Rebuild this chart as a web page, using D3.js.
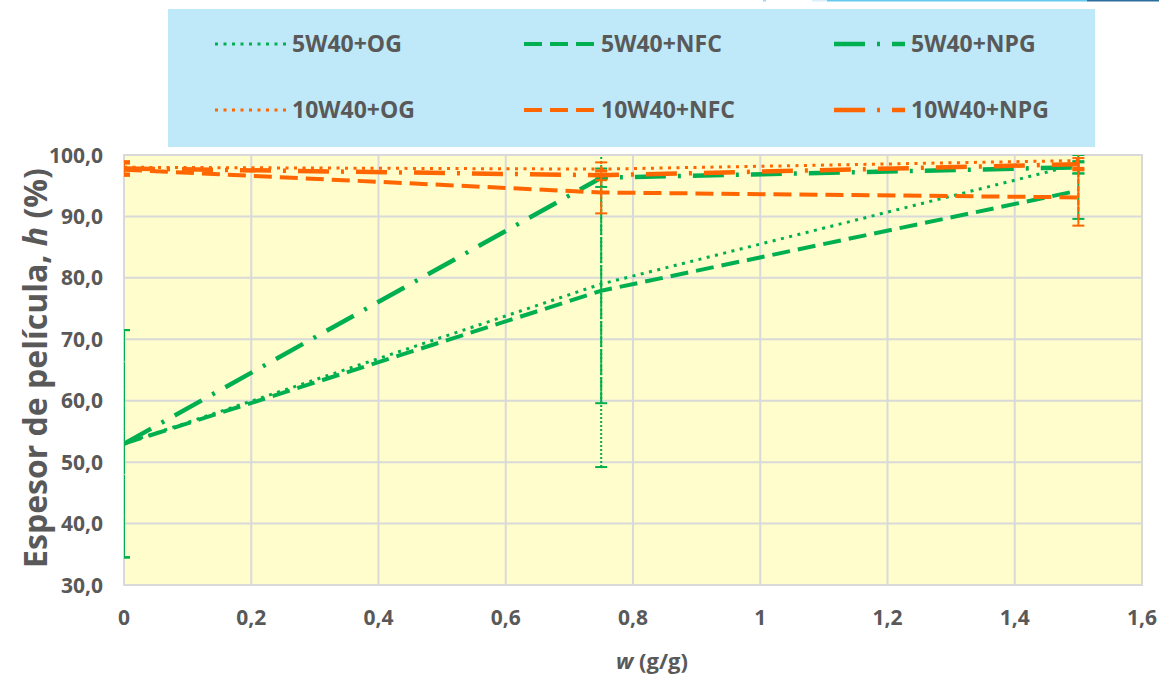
<!DOCTYPE html>
<html>
<head>
<meta charset="utf-8">
<script src="https://cdn.jsdelivr.net/npm/d3@7"></script>
<style>
  html, body { margin: 0; padding: 0; background: #ffffff; }
  svg { display: block; }
  text { font-family: "Open Sans", Lato, sans-serif; font-weight: bold; fill: #595959; }
</style>
</head>
<body>
<svg id="chart" width="1159" height="674"></svg>
<script>
// ---------- DATA ----------
const xValues = [0, 0.75, 1.5];
const seriesNames = ["5W40+OG", "5W40+NFC", "5W40+NPG", "10W40+OG", "10W40+NFC", "10W40+NPG"];
const og5  = [53.0, 79.0, 98.5];
const nfc5 = [53.0, 77.9, 94.2];
const npg5 = [53.0, 96.3, 98.0];
const og10  = [98.0, 97.7, 99.1];
const nfc10 = [97.6, 93.9, 93.1];
const npg10 = [97.8, 96.7, 98.5];
const og5Err  = [18.5, 29.8, 1.5];
const nfc5Err = [18.5, 18.3, 4.6];
const npg5Err = [18.5, 1.5, 1.0];
const og10Err  = [1.0, 1.1, 1.2];
const nfc10Err = [1.0, 3.4, 4.6];
const npg10Err = [1.0, 0.8, 1.0];
const yTicks = [30, 40, 50, 60, 70, 80, 90, 100];
const xTicks = [0, 0.2, 0.4, 0.6, 0.8, 1, 1.2, 1.4, 1.6];
const yTitle = "Espesor de película, ";
const xTitle = " (g/g)";

// ---------- STYLE ----------
const GREEN = "#00B050", ORANGE = "#FF6600";
const styles = {
  dot:  { dash: "3,5.5", width: 3, err: "2,2" },
  dash: { dash: "18,8", width: 4, err: "12,2" },
  dd:   { dash: "31,12,3,12", width: 4.5, err: "14,3,2,3" }
};
const seriesDefs = [
  { name: seriesNames[0], vals: og5,  err: og5Err,  color: GREEN,  st: "dot" },
  { name: seriesNames[1], vals: nfc5, err: nfc5Err, color: GREEN,  st: "dash" },
  { name: seriesNames[2], vals: npg5, err: npg5Err, color: GREEN,  st: "dd" },
  { name: seriesNames[3], vals: og10, err: og10Err, color: ORANGE, st: "dot" },
  { name: seriesNames[4], vals: nfc10, err: nfc10Err, color: ORANGE, st: "dash" },
  { name: seriesNames[5], vals: npg10, err: npg10Err, color: ORANGE, st: "dd" }
];

const svg = d3.select("#chart");
const P = { left: 124, right: 1142, top: 155, bottom: 585 };
const x = d3.scaleLinear().domain([0, 1.6]).range([P.left, P.right]);
const y = d3.scaleLinear().domain([30, 100]).range([P.bottom, P.top]);

// top-right artifact line
svg.append("rect").attr("x", 763).attr("y", 0).attr("width", 3).attr("height", 1.5).attr("fill", "#9ED9F2");
svg.append("rect").attr("x", 812).attr("y", 0).attr("width", 15).attr("height", 1.5).attr("fill", "#DDF0FA");
svg.append("rect").attr("x", 827).attr("y", 0).attr("width", 260).attr("height", 1.5).attr("fill", "#66CBEE");
svg.append("rect").attr("x", 1087).attr("y", 0).attr("width", 72).attr("height", 1.5).attr("fill", "#2E6E9E");

// legend box
svg.append("rect").attr("x", 168).attr("y", 9).attr("width", 927).attr("height", 138).attr("fill", "#BFE9F8");

// plot area
svg.append("rect").attr("x", P.left).attr("y", P.top)
  .attr("width", P.right - P.left).attr("height", P.bottom - P.top)
  .attr("fill", "#FFFDCC");

// gridlines
const grid = svg.append("g");
grid.selectAll(".gx").data(xTicks).join("line")
  .attr("x1", d => x(d)).attr("x2", d => x(d)).attr("y1", P.top).attr("y2", P.bottom)
  .attr("stroke", "#D9D9D9").attr("stroke-width", 2);
grid.selectAll(".gy").data(yTicks).join("line")
  .attr("y1", d => y(d)).attr("y2", d => y(d)).attr("x1", P.left).attr("x2", P.right)
  .attr("stroke", "#D9D9D9").attr("stroke-width", 2);
svg.append("rect").attr("x", P.left).attr("y", P.top)
  .attr("width", P.right - P.left).attr("height", P.bottom - P.top)
  .attr("fill", "none").attr("stroke", "#D9D9D9").attr("stroke-width", 2);

// clip
svg.append("clipPath").attr("id", "clip").append("rect")
  .attr("x", P.left).attr("y", P.top).attr("width", P.right - P.left).attr("height", P.bottom - P.top);

const plot = svg.append("g").attr("clip-path", "url(#clip)");
const line = d3.line().x(d => x(d[0])).y(d => y(d[1]));

seriesDefs.forEach(s => {
  const st = styles[s.st];
  const g = plot.append("g");
  // error bars
  xValues.forEach((xv, i) => {
    const lo = s.vals[i] - s.err[i], hi = s.vals[i] + s.err[i];
    g.append("line").attr("x1", x(xv)).attr("x2", x(xv)).attr("y1", y(lo)).attr("y2", y(hi))
      .attr("stroke", s.color).attr("stroke-width", 2).attr("stroke-dasharray", st.err);
    [lo, hi].forEach(v => {
      g.append("line").attr("x1", x(xv) - 6).attr("x2", x(xv) + 6).attr("y1", y(v)).attr("y2", y(v))
        .attr("stroke", s.color).attr("stroke-width", 2);
    });
  });
  const pts = xValues.map((xv, i) => [xv, s.vals[i]]);
  g.append("path").attr("d", line(pts)).attr("fill", "none")
    .attr("stroke", s.color).attr("stroke-width", st.width).attr("stroke-dasharray", st.dash)
    .attr("stroke-linecap", "butt");
});

// axis tick labels
const fmt = d3.format(".1f");
svg.append("g").selectAll("text").data(yTicks).join("text")
  .attr("x", 103).attr("y", d => y(d)).attr("dy", "0.36em").attr("text-anchor", "end")
  .style("font-size", "21px").text(d => fmt(d).replace(".", ","));
svg.append("g").selectAll("text").data(xTicks).join("text")
  .attr("x", d => x(d)).attr("y", 617).attr("dy", "0.36em").attr("text-anchor", "middle")
  .style("font-size", "21px").text(d => String(d).replace(".", ","));

// axis titles
const yt = svg.append("text").attr("transform", "translate(47,368) rotate(-90)")
  .attr("text-anchor", "middle").style("font-size", "32px");
yt.append("tspan").text(yTitle);
yt.append("tspan").style("font-style", "italic").text("h");
yt.append("tspan").text(" (%)");

const xt = svg.append("text").attr("x", 652).attr("y", 661).attr("dy", "0.36em")
  .attr("text-anchor", "middle").style("font-size", "22px");
xt.append("tspan").style("font-style", "italic").text("w");
xt.append("tspan").text(xTitle);

// legend
const legCols = [215, 524, 834];
const legRows = [44, 110];
seriesDefs.forEach((s, i) => {
  const cx = legCols[i % 3], cy = legRows[Math.floor(i / 3)];
  const st = styles[s.st];
  svg.append("line").attr("x1", cx).attr("x2", cx + 71).attr("y1", cy).attr("y2", cy)
    .attr("stroke", s.color).attr("stroke-width", st.width).attr("stroke-dasharray", st.dash);
  svg.append("text").attr("x", cx + 77).attr("y", cy).attr("dy", "0.36em")
    .style("font-size", "23px").text(s.name);
});
</script>
</body>
</html>
